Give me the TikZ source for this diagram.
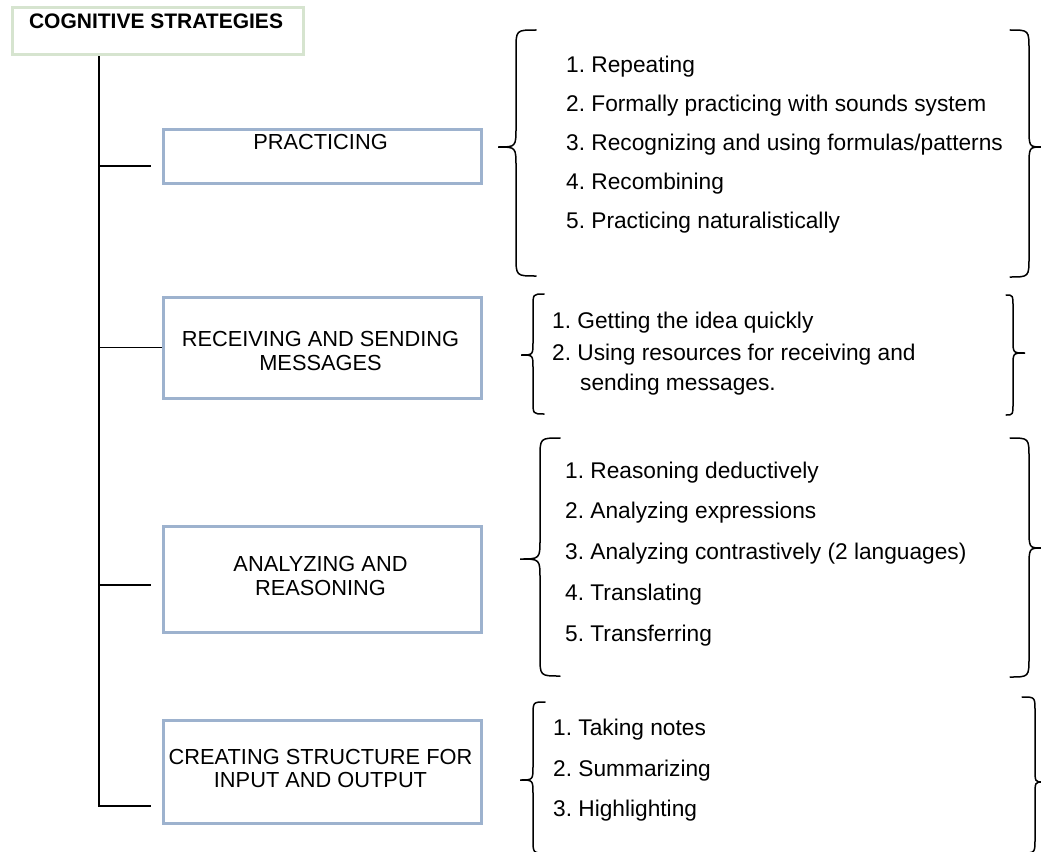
\documentclass[tikz,border=0pt]{standalone}
\usepackage{fontspec}
\setmainfont{Liberation Sans}
\usetikzlibrary{calc}
\frenchspacing
\definecolor{titleborder}{RGB}{214,228,207}
\definecolor{boxborder}{RGB}{157,178,206}
\tikzset{
  titlebox/.style={draw=titleborder, line width=3pt, inner sep=0pt, anchor=north west},
  catbox/.style={draw=boxborder, line width=3pt, inner sep=0pt, anchor=north west, minimum width=318pt},
  lbl/.style={font=\fontsize{21.8}{23.5}\selectfont, align=center, inner sep=0pt},
  ttl/.style={font=\fontsize{21}{23}\selectfont\bfseries, inner sep=0pt},
  item/.style={font=\fontsize{22.7}{25}\selectfont, anchor=base west, inner sep=0pt},
  tree/.style={line width=1.6pt, black},
  brace/.style={line width=1.5pt, black, line cap=round},
}
% left brace: tipx, vertical x, end x, top y, tip y, bottom y, radius
\newcommand{\leftbr}[7]{%
  \draw[brace] (#3,#4) .. controls (#2,#4) .. (#2,{#4+#7}) -- (#2,{#5-#7})
    .. controls (#2,#5) .. (#1,#5) .. controls (#2,#5) .. (#2,{#5+#7})
    -- (#2,{#6-#7}) .. controls (#2,#6) .. (#3,#6);}
% right brace: end x, vertical x, tip x, top y, tip y, bottom y, radius
\newcommand{\rightbr}[7]{%
  \draw[brace] (#1,#4) .. controls (#2,#4) .. (#2,{#4+#7}) -- (#2,{#5-#7})
    .. controls (#2,#5) .. (#3,#5) .. controls (#2,#5) .. (#2,{#5+#7})
    -- (#2,{#6-#7}) .. controls (#2,#6) .. (#1,#6);}
\begin{document}
\begin{tikzpicture}[x=1pt,y=-1pt]
\useasboundingbox (0,0) rectangle (1041,851);

% title
\node[titlebox, minimum width=291pt, minimum height=47pt] (title) at (10.5,6.5) {};
\node[ttl] (titletext) at (156,21.5) {COGNITIVE STRATEGIES};

% category boxes
\node[catbox, minimum height=54pt] (prac) at (161.5,127.5) {};
\node[lbl] (practext) at (320.5,141.5) {PRACTICING};

\node[catbox, minimum height=101pt] (recv) at (161.5,295.5) {};
\node[lbl] (recvtext) at (320.5,351) {RECEIVING AND SENDING\\MESSAGES};

\node[catbox, minimum height=106pt] (anal) at (161.5,524.5) {};
\node[lbl] (analtext) at (320.5,576) {ANALYZING AND\\REASONING};

\node[catbox, minimum height=103pt] (creat) at (161.5,718.5) {};
\node[lbl] (creattext) at (320.5,768.5) {CREATING STRUCTURE FOR\\INPUT AND OUTPUT};

% tree connectors
\coordinate (tx) at (99,0);
\coordinate (b1) at (151,166);
\coordinate (b3) at (151,585);
\coordinate (b4) at (151,806);
\draw[tree] (title.south -| tx) -- (tx |- b4) -- (b4);
\draw[tree] (tx |- b1) -- (b1);
\draw[tree] (tx |- recv.west) -- (recv.west);
\draw[tree] (tx |- b3) -- (b3);

% braces
\leftbr{498}{516}{536}{30}{147}{276}{20}
\rightbr{1010}{1029}{1042}{30}{147}{277}{20}
\leftbr{521}{533}{544}{294}{355}{414}{13}
\rightbr{1006}{1013}{1025}{295}{353}{415}{13}
\leftbr{520}{540}{560}{438}{559}{676}{20}
\rightbr{1010}{1029}{1042}{438}{548}{677}{20}
\leftbr{520}{533}{545}{702}{780}{853}{14}
\rightbr{1022}{1035}{1043}{697}{782}{853}{14}

% items
\node[item] (p1) at (566,72) {1. Repeating};
\node[item] (p2) at (566,111) {2. Formally practicing with sounds system};
\node[item] (p3) at (566,150) {3. Recognizing and using formulas/patterns};
\node[item] (p4) at (566,189) {4. Recombining};
\node[item] (p5) at (566,228) {5. Practicing naturalistically};

\node[item] (r1) at (552,328) {1. Getting the idea quickly};
\node[item] (r2) at (552,360) {2. Using resources for receiving and};
\node[item] (r3) at (580,390) {sending messages.};

\node[item] (a1) at (565,478) {1. Reasoning deductively};
\node[item] (a2) at (565,518) {2. Analyzing expressions};
\node[item] (a3) at (565,559) {3. Analyzing contrastively (2 languages)};
\node[item] (a4) at (565,600) {4. Translating};
\node[item] (a5) at (565,641) {5. Transferring};

\node[item] (c1) at (553,735) {1. Taking notes};
\node[item] (c2) at (553,776) {2. Summarizing};
\node[item] (c3) at (553,816) {3. Highlighting};
\end{tikzpicture}
\end{document}
